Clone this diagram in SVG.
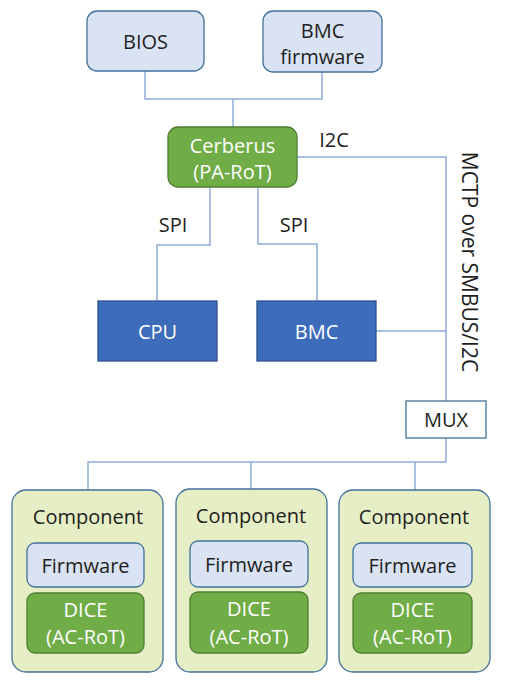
<svg xmlns="http://www.w3.org/2000/svg" width="506" height="681" viewBox="0 0 506 681">
<style>
text{font-family:"Open Sans","Noto Sans",sans-serif;font-size:20px;text-anchor:middle;dominant-baseline:central;fill:#1e1e1e}
.lb rect{fill:#dae3f3;stroke:#41719c;stroke-width:1.3}
.gr rect{fill:#70ad47;stroke:#507e32;stroke-width:1.3}
.gr text,.db text{fill:#fff}
.db rect{fill:#3d6cbb;stroke:#2f528f;stroke-width:1.3}
.comp>rect{fill:#e6eec6;stroke:#41719c;stroke-width:1.3}
.mux rect{fill:#fff;stroke:#41719c;stroke-width:1.3}
#connectors path{fill:none;stroke:#8eaadb;stroke-width:1.5}
</style>
<g id="connectors">
<path d="M145,71 V99 H322 V72 M233,99 V127"/>
<path d="M297,157 H446 V401 M376,331 H446"/>
<path d="M210,187 V245 H157 V301"/>
<path d="M258,187 V244 H317 V301"/>
<path d="M446,438 V462 H88 V490 M251,462 V489 M415,462 V490"/>
</g>
<g id="bios" class="lb"><rect x="87" y="11" width="117" height="60" rx="10"/><text x="145.5" y="41">BIOS</text></g>
<g id="bmcfw" class="lb"><rect x="263" y="11" width="119" height="61" rx="10"/><text x="322.5" y="30">BMC</text><text x="322.5" y="56">firmware</text></g>
<g id="cerberus" class="gr"><rect x="168" y="127" width="129" height="60" rx="10"/><text x="232.5" y="145">Cerberus</text><text x="232.5" y="171">(PA-RoT)</text></g>
<g id="cpu" class="db"><rect x="98" y="301" width="119" height="60"/><text x="157.5" y="331">CPU</text></g>
<g id="bmc" class="db"><rect x="257" y="301" width="119" height="60"/><text x="316.5" y="331">BMC</text></g>
<g id="mux" class="mux"><rect x="406" y="401" width="80" height="37"/><text x="446" y="419.5">MUX</text></g>
<g id="labels">
<text x="334" y="139">I2C</text>
<text x="173" y="224">SPI</text>
<text x="294" y="224">SPI</text>
<text x="470" y="262" transform="rotate(90 470 262)" style="font-size:21px">MCTP over SMBUS/I2C</text>
</g>
<g id="comp1" class="comp"><rect x="12" y="490" width="151" height="182" rx="14"/><text x="88" y="516">Component</text>
<g class="lb"><rect x="27" y="543" width="117" height="44" rx="8"/><text x="85.5" y="565">Firmware</text></g>
<g class="gr"><rect x="27" y="593" width="117" height="60" rx="8"/><text x="85.5" y="609">DICE</text><text x="85.5" y="636">(AC-RoT)</text></g></g>
<g id="comp2" class="comp"><rect x="176" y="489" width="151" height="183" rx="14"/><text x="251" y="515">Component</text>
<g class="lb"><rect x="190" y="541" width="118" height="46" rx="8"/><text x="249" y="564">Firmware</text></g>
<g class="gr"><rect x="190" y="592" width="118" height="61" rx="8"/><text x="249" y="608">DICE</text><text x="249" y="636">(AC-RoT)</text></g></g>
<g id="comp3" class="comp"><rect x="339" y="490" width="151" height="182" rx="14"/><text x="414" y="516">Component</text>
<g class="lb"><rect x="353" y="543" width="119" height="44" rx="8"/><text x="412.5" y="565">Firmware</text></g>
<g class="gr"><rect x="353" y="593" width="119" height="60" rx="8"/><text x="412.5" y="609">DICE</text><text x="412.5" y="636">(AC-RoT)</text></g></g>
</svg>
